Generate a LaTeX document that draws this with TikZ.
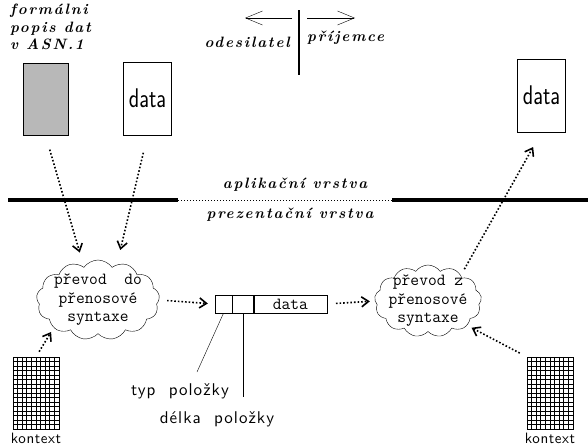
\documentclass[tikz,border=0pt]{standalone}
\usepackage{fontspec}
\newfontfamily\layerfont{lmroman10}[Extension=.otf, UprightFont=*-regular, BoldFont=*-bold,
  ItalicFont=*-italic, BoldItalicFont=*-bolditalic, LetterSpace=12]
\newfontfamily\labelsans{lmsans10-regular.otf}[LetterSpace=4]
\newfontfamily\fieldsans{lmsans10-regular.otf}[LetterSpace=6]
\usetikzlibrary{arrows.meta,shapes.symbols,calc}
\tikzset{
  dotarrow/.style={line width=1.6pt, dotted, -{Straight Barb[length=7pt,width=10pt]}},
  layer/.style={font=\layerfont\fontsize{15}{17.5}\selectfont\bfseries\itshape},
  databox/.style={draw, minimum width=48pt, minimum height=73pt, inner sep=1pt,
    font=\sffamily\fontsize{27}{27}\selectfont},
  conv/.style={cloud, draw, cloud puffs=13, cloud puff arc=110, cloud ignores aspect, inner sep=0pt},
  convtext/.style={align=center, inner sep=0pt, font=\ttfamily\fontsize{17}{18.5}\selectfont},
  gridbox/.style={draw, minimum width=46pt, minimum height=72pt, inner sep=0pt},
  cell/.style={draw, minimum height=18pt, inner sep=0pt},
  smallsans/.style={font=\labelsans\fontsize{15}{16}\selectfont},
  fieldlabel/.style={font=\fieldsans\fontsize{17}{18}\selectfont, inner sep=0pt}
}
\begin{document}
\begin{tikzpicture}[x=1pt,y=-1pt]
\useasboundingbox (0,0) rectangle (588,447);
% sender / receiver
\draw[line width=2pt] (299,10)--(299,75);
\draw[-{Straight Barb[length=17pt,width=14pt]}] (292,18)--(245,18);
\draw[-{Straight Barb[length=17pt,width=14pt]}] (307,18)--(355,18);
\node[layer, anchor=east, inner sep=0pt] (odes) at (290,42) {odesilatel};
\node[layer, anchor=west, inner sep=0pt] (prij) at (307,38) {příjemce};
% application layer
\node[layer, anchor=north west, align=left, inner sep=0pt] (asn) at (10,4) {formálni\\popis dat\\v ASN.1};
\node[draw, fill=black!28, minimum width=45pt, minimum height=72pt] (formal) at (45.5,99) {};
\node[databox] (dataL) at (147.5,98.5) {\scalebox{0.8}[1]{data}};
\node[databox] (dataR) at (541.5,95.5) {\scalebox{0.8}[1]{data}};
\draw[line width=4pt] (8,200)--(178,200);
\draw[dotted, line width=1pt] (178,200)--(392,200);
\draw[line width=4pt] (392,200)--(588,200);
\node[layer] (apl) at (295,185) {aplikační vrstva};
\node[layer] (prez) at (290,215) {prezentační vrstva};
% presentation layer
\node[conv, minimum width=123pt, minimum height=80pt,
  label={[convtext]center:převod~~do\\přenosové\\syntaxe}] (convL) at (98,300) {};
\node[conv, minimum width=107pt, minimum height=72pt,
  label={[convtext]center:převod z\\přenosové\\syntaxe}] (convR) at (428,301) {};
\node[cell, minimum width=17pt] (typ) at (223.5,304) {};
\node[cell, minimum width=21pt, anchor=west] (delka) at (typ.east) {};
\node[cell, minimum width=73pt, anchor=west, font=\ttfamily\fontsize{17}{17}\selectfont] (rdata) at (delka.east) {data};
\node[fieldlabel, anchor=base] (typlab) at (180,395) {typ~~položky};
\node[fieldlabel, anchor=base] (dlab) at (217,423) {délka~~položky};
\coordinate (typend) at (197,372);
\coordinate (delkaend) at ($(delka.south)+(0,84)$);
\draw (typ.south) -- (typend);
\draw (delka.south) -- (delkaend);
% contexts
\node[gridbox] (ctxL) at (36,393) {};
\node[gridbox] (ctxR) at (550,393) {};
\foreach \g in {ctxL,ctxR} {
  \foreach \i in {1,...,9} \draw ($(\g.north west)+(4.6*\i,0)$) -- ($(\g.south west)+(4.6*\i,0)$);
  \foreach \j in {1,...,15} \draw ($(\g.north west)+(0,4.5*\j)$) -- ($(\g.north east)+(0,4.5*\j)$);
  \node[smallsans, anchor=base, inner sep=0pt] at ($(\g.south)+(0,14)$) {kontext};
}
% flows
\draw[dotarrow, shorten <=15pt, shorten >=15pt] (formal.south) -- (convL.113);
\draw[dotarrow, shorten <=18pt, shorten >=15pt] (dataL.south) -- (convL.62);
\draw[dotarrow, shorten <=8pt, shorten >=7pt] (convL.east) -- (typ.west);
\draw[dotarrow, shorten <=9pt, shorten >=5pt] (rdata.east) -- (convR.west);
\draw[dotarrow, shorten <=6pt, shorten >=5pt] (ctxL.north) -- (convL.212);
\draw[dotarrow, shorten <=8pt, shorten >=5pt] (ctxR.north west) -- (convR.-32);
\draw[dotarrow, shorten <=7pt, shorten >=17pt] (convR.38) -- (dataR.south);
\end{tikzpicture}
\end{document}
